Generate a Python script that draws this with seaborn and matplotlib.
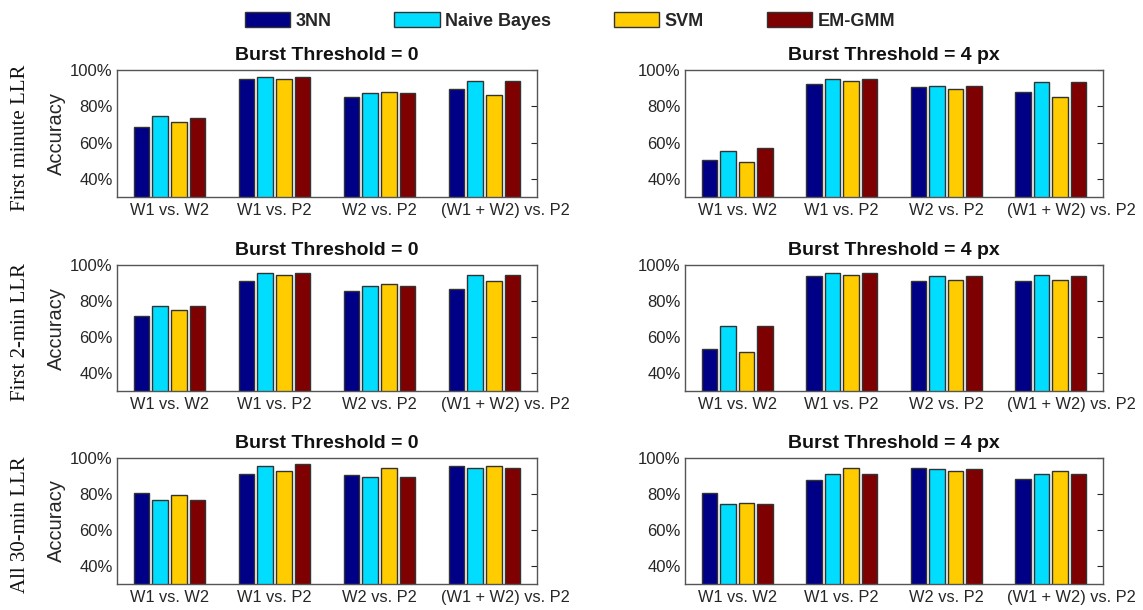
import matplotlib
matplotlib.use("Agg")
import matplotlib.pyplot as plt
import matplotlib.patches as mpatches
import matplotlib.ticker as mticker
import pandas as pd
import seaborn as sns

# Data (accuracy in %)
pairs = ['W1 vs. W2', 'W1 vs. P2', 'W2 vs. P2', '(W1 + W2) vs. P2']
classifiers = ['3NN', 'Naive Bayes', 'SVM', 'EM-GMM']
colors = ['#000087', '#00DDFF', '#FFCC00', '#7F0000']
row_labels = ['First minute LLR', 'First 2-min LLR', 'All 30-min LLR']
col_titles = ['Burst Threshold = 0', 'Burst Threshold = 4 px']

# each panel: one list per classifier, values over pairs
first_min_bt0 = [[68.5, 95.0, 85.0, 89.3],
                 [74.5, 96.3, 87.3, 94.0],
                 [71.3, 95.0, 88.0, 86.2],
                 [73.3, 96.3, 87.3, 94.0]]
first_min_bt4 = [[50.3, 92.3, 90.4, 88.0],
                 [55.4, 95.0, 91.0, 93.4],
                 [49.5, 94.0, 89.3, 85.1],
                 [57.2, 95.0, 91.0, 93.4]]
first_2min_bt0 = [[71.5, 91.0, 85.5, 86.5],
                  [77.5, 95.7, 88.5, 94.5],
                  [75.0, 94.5, 89.5, 91.3],
                  [77.5, 95.7, 88.5, 94.5]]
first_2min_bt4 = [[53.3, 93.8, 91.0, 91.0],
                  [66.3, 95.7, 93.8, 94.5],
                  [51.5, 94.5, 91.5, 91.5],
                  [66.3, 95.7, 93.8, 93.8]]
all_30min_bt0 = [[80.5, 91.3, 90.7, 95.4],
                 [76.4, 95.4, 89.4, 94.3],
                 [79.2, 92.6, 94.3, 95.4],
                 [76.4, 96.8, 89.4, 94.3]]
all_30min_bt4 = [[80.5, 87.6, 94.3, 88.3],
                 [74.4, 91.3, 93.7, 91.3],
                 [75.0, 94.3, 92.6, 92.6],
                 [74.4, 91.3, 93.7, 91.3]]

panels = [[first_min_bt0, first_min_bt4],
          [first_2min_bt0, first_2min_bt4],
          [all_30min_bt0, all_30min_bt4]]

sns.set_theme(style='white')
plt.rcParams['font.family'] = ['Liberation Sans', 'DejaVu Sans']

W, H = 1143, 610
fig = plt.figure(figsize=(W / 100, H / 100), dpi=100)

col_x = [(117, 537), (685, 1103)]
row_y = [(70, 197), (265, 391), (458, 584)]
txt = '#262626'

for r in range(3):
    for c in range(2):
        x0, x1 = col_x[c]
        y0, y1 = row_y[r]
        ax = fig.add_axes([x0 / W, 1 - y1 / H, (x1 - x0) / W, (y1 - y0) / H])
        vals = panels[r][c]
        df = pd.DataFrame([{'pair': p, 'clf': clf, 'acc': vals[i][j]}
                           for i, clf in enumerate(classifiers)
                           for j, p in enumerate(pairs)])
        sns.barplot(data=df, x='pair', y='acc', hue='clf', order=pairs,
                    hue_order=classifiers, palette=colors, width=0.71,
                    gap=0.16, edgecolor='#333333', linewidth=1.0,
                    saturation=1, legend=False, ax=ax)
        ax.set_xlim(-0.5, 3.5)
        ax.set_ylim(30, 100)
        ax.set_yticks([40, 60, 80, 100])
        ax.yaxis.set_major_formatter(mticker.FuncFormatter(lambda v, p: f'{v:.0f}%'))
        # last label sits a little to the right in the original
        ax.set_xticks([0, 1, 2, 3.2], pairs)
        ax.set_xlabel('')
        ax.set_ylabel('Accuracy' if c == 0 else '', fontsize=14.5, color=txt, labelpad=3)
        ax.set_title(col_titles[c], fontsize=14, fontweight='bold', pad=7, color='#111111')
        ax.tick_params(axis='y', direction='in', length=4, right=True, labelsize=12,
                       colors=txt, labelcolor=txt, pad=3, width=0.8)
        ax.tick_params(axis='x', length=0, labelsize=11.8, labelcolor=txt, pad=4)
        for s in ax.spines.values():
            s.set_color('#555555')
            s.set_linewidth(1.0)
    fig.text(21 / W, 1 - ((row_y[r][0] + row_y[r][1]) / 2 + 4) / H, row_labels[r],
             rotation=90, ha='center', va='center', fontsize=15,
             family='Liberation Serif', color='#111111')

handles = [mpatches.Patch(facecolor=col, edgecolor='#333333', linewidth=1.0, label=lab)
           for col, lab in zip(colors, classifiers)]
fig.legend(handles=handles, loc='center', bbox_to_anchor=(570 / W, 1 - 21 / H), ncol=4,
           frameon=False, handlelength=2.5, handleheight=0.9, handletextpad=0.3,
           columnspacing=3.5, prop={'weight': 'bold', 'size': 13})

fig.savefig('out.png', dpi=100)
